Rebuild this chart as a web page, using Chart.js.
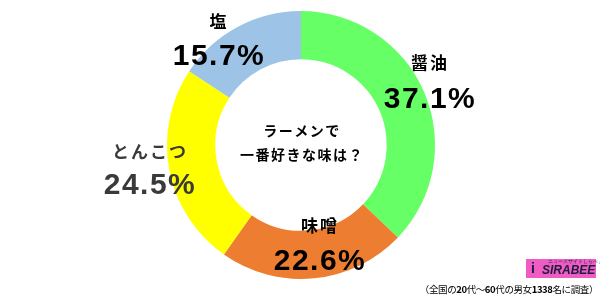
<!DOCTYPE html>
<html>
<head>
<meta charset="utf-8">
<script src="https://cdn.jsdelivr.net/npm/chart.js@4"></script>
<style>
html,body{margin:0;padding:0;background:#fff;}
#wrap{width:600px;height:298px;position:relative;}
</style>
</head>
<body>
<div id="wrap"><canvas id="c" width="600" height="298"></canvas></div>
<script>
const categories = ['醤油', '味噌', 'とんこつ', '塩'];
const values = [37.1, 22.6, 24.5, 15.7];
const valueLabels = ['37.1%', '22.6%', '24.5%', '15.7%'];
const colors = ['#66FF66', '#ED7D31', '#FFFF00', '#9DC3E6'];
const centerLines = ['ラーメンで', '一番好きな味は？'];
const note = [['（全国の', false], ['20', true], ['代～', false], ['60', true], ['代の男女', false], ['1338', true], ['名に調査）', false]];

// label placement (offsets from chart center) – text only
const labelPlace = [
  {dx: 128, nameY: -82, valY: -45, color: '#000'},
  {dx: 18, nameY: 81, valY: 117, color: '#000'},
  {dx: -152, nameY: 7, valY: 41, color: '#3a3a3a'},
  {dx: -83, nameY: -123, valY: -88, color: '#000'}
];

const JP = '"Noto Sans CJK JP", "Noto Sans", sans-serif';
const NUM = '"Liberation Sans", Arial, sans-serif';

const textPlugin = {
  id: 'texts',
  afterDraw(chart) {
    const ctx = chart.ctx;
    const arc = chart.getDatasetMeta(0).data[0];
    const cx = arc.x, cy = arc.y;
    ctx.save();
    ctx.textAlign = 'center';
    ctx.textBaseline = 'middle';
    categories.forEach((name, i) => {
      const p = labelPlace[i];
      ctx.fillStyle = p.color;
      ctx.font = 'bold 17px ' + JP;
      ctx.letterSpacing = '2px';
      ctx.fillText(name, cx + p.dx + 1, cy + p.nameY);
      ctx.font = 'bold 30px ' + NUM;
      ctx.letterSpacing = '1.5px';
      ctx.fillText(valueLabels[i], cx + p.dx + 1, cy + p.valY);
    });
    // center title
    ctx.fillStyle = '#000';
    ctx.font = 'bold 14px ' + JP;
    ctx.letterSpacing = '1.5px';
    ctx.fillText(centerLines[0], cx + 1, cy - 14);
    ctx.fillText(centerLines[1], cx + 1, cy + 10);
    ctx.letterSpacing = '0px';

    // logo
    ctx.fillStyle = '#EE5CC4';
    ctx.fillRect(526, 259, 70, 19);
    ctx.fillStyle = '#1c1c3c';
    ctx.font = 'italic bold 12px ' + NUM;
    ctx.textAlign = 'left';
    ctx.fillText('SIRABEE', 542, 271);
    ctx.font = 'bold 14px ' + NUM;
    ctx.fillText('i', 531, 269);
    ctx.font = '5px ' + NUM;
    ctx.fillText('ニュースサイトしらべぇ', 548, 262);

    // footnote
    ctx.letterSpacing = '-0.4px';
    let total = 0;
    const fonts = note.map(s => (s[1] ? 'bold ' : '') + '9.5px ' + JP);
    note.forEach((s, i) => { ctx.font = fonts[i]; total += ctx.measureText(s[0]).width; });
    let x = 598 - total;
    ctx.fillStyle = '#000';
    note.forEach((s, i) => {
      ctx.font = fonts[i];
      ctx.fillText(s[0], x, 289);
      x += ctx.measureText(s[0]).width;
    });
    ctx.restore();
  }
};

new Chart(document.getElementById('c'), {
  type: 'doughnut',
  data: {
    labels: categories,
    datasets: [{
      data: values,
      backgroundColor: colors,
      borderWidth: 0,
      hoverOffset: 0
    }]
  },
  options: {
    responsive: false,
    devicePixelRatio: 1,
    animation: false,
    cutout: '64%',
    layout: {padding: {top: 11, bottom: 19, left: 167, right: 165}},
    plugins: {legend: {display: false}, tooltip: {enabled: false}}
  },
  plugins: [textPlugin]
});
</script>
</body>
</html>
